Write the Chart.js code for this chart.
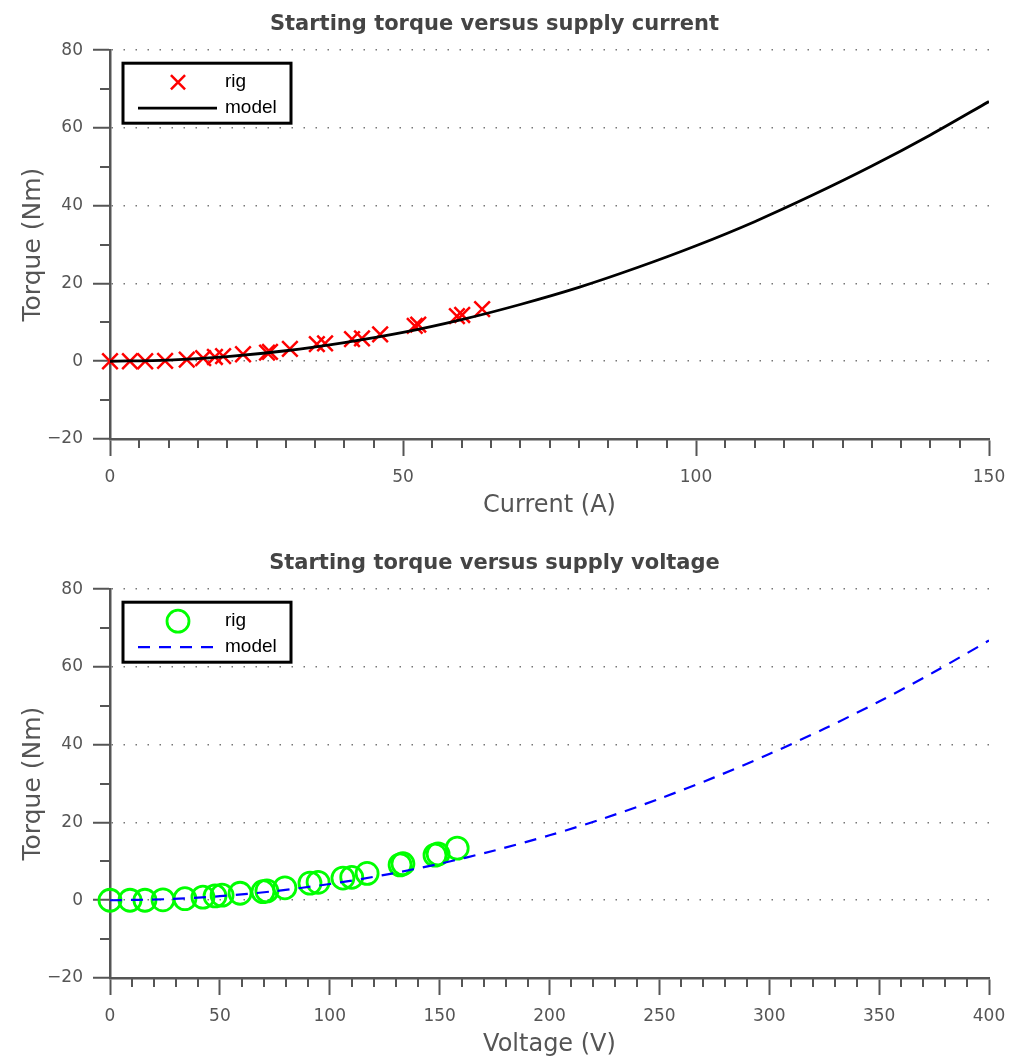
<!DOCTYPE html>
<html>
<head>
<meta charset="utf-8">
<script src="https://cdn.jsdelivr.net/npm/chart.js@4.4.0/dist/chart.umd.min.js"></script>
<style>
  html, body { margin: 0; padding: 0; background: #fff; overflow: hidden; width: 1010px; height: 1061px; }
  canvas { position: absolute; left: 0; }
  #currentChart { top: 0; }
  #voltageChart { top: 539px; }
</style>
</head>
<body>
<canvas id="currentChart" width="1010" height="530"></canvas>
<canvas id="voltageChart" width="1010" height="530"></canvas>
<script>
// mesures du banc (rig)
const rigCurrent = [0, 3.4, 6.0, 9.4, 13.1, 15.9, 17.9, 19.3, 22.7, 26.8, 27.3, 30.7, 35.3, 36.7, 41.3, 43.0, 46.1, 52.0, 52.6, 59.2, 60.1, 63.5];
const rigVoltage = [0, 9.1, 15.9, 24.1, 34.1, 42.3, 47.8, 51.0, 59.2, 69.6, 71.4, 79.6, 91.0, 94.7, 106.0, 110.0, 117.0, 132.0, 133.3, 147.9, 149.3, 158.0];
const rigTorque = [0, 0, 0, 0.1, 0.4, 0.8, 1.1, 1.3, 1.8, 2.2, 2.4, 3.2, 4.4, 4.6, 5.7, 5.9, 6.9, 9.1, 9.4, 11.6, 11.9, 13.4];

// courbes du modele
const modelCurrent = [0, 10, 20, 30, 40, 50, 60, 70, 80, 90, 100, 110, 120, 130, 140, 150];
const modelTorqueI = [0, 0.3, 1.2, 2.7, 4.8, 7.4, 10.7, 14.6, 19.0, 24.1, 29.7, 35.9, 42.8, 50.2, 58.2, 66.8];
const modelVoltage = [0, 25, 50, 75, 100, 125, 150, 175, 200, 225, 250, 275, 300, 325, 350, 375, 400];
const modelTorqueV = [0, 0.26, 1.04, 2.35, 4.18, 6.52, 9.39, 12.8, 16.7, 21.1, 26.1, 31.6, 37.6, 44.1, 51.1, 58.7, 66.8];

// axes
const torqueTicks = [-20, 0, 20, 40, 60, 80];
const currentTicks = [0, 50, 100, 150];
const voltageTicks = [0, 50, 100, 150, 200, 250, 300, 350, 400];

const axisColor = '#555';

const toPoints = (xs, ys) => xs.map((x, i) => ({ x: x, y: ys[i] }));

// petits traits secondaires sur les axes
const minorTicks = {
  id: 'minorTicks',
  afterDraw(chart, args, opts) {
    const { ctx, chartArea } = chart;
    const x = chart.scales.x, y = chart.scales.y;
    ctx.save();
    ctx.strokeStyle = axisColor;
    ctx.lineWidth = 2;
    ctx.beginPath();
    for (let v = x.min; v <= x.max; v += opts.xStep) {
      if (v % opts.xMajor === 0) continue;
      const px = Math.round(x.getPixelForValue(v));
      ctx.moveTo(px, chartArea.bottom);
      ctx.lineTo(px, chartArea.bottom + 9);
    }
    for (let v = y.min; v <= y.max; v += 10) {
      if (v % 20 === 0) continue;
      const py = Math.round(y.getPixelForValue(v));
      ctx.moveTo(chartArea.left, py);
      ctx.lineTo(chartArea.left - 10, py);
    }
    ctx.stroke();
    ctx.restore();
  }
};

// legende dans un cadre en haut a gauche
const boxLegend = {
  id: 'boxLegend',
  afterDraw(chart) {
    const { ctx, chartArea } = chart;
    const left = chartArea.left + 13, top = chartArea.top + 13;
    ctx.save();
    ctx.fillStyle = '#fff';
    ctx.fillRect(left, top, 168, 60);
    ctx.strokeStyle = '#000';
    ctx.lineWidth = 3;
    ctx.strokeRect(left, top, 168, 60);

    const rig = chart.data.datasets[0];
    const model = chart.data.datasets[1];
    const row1 = top + 19, row2 = top + 45;

    ctx.strokeStyle = rig.borderColor;
    ctx.lineWidth = rig.borderWidth;
    Chart.helpers.drawPoint(ctx, { pointStyle: rig.pointStyle, radius: rig.legendRadius, borderWidth: rig.borderWidth, rotation: 0 }, left + 55, row1);

    ctx.strokeStyle = model.borderColor;
    ctx.lineWidth = model.borderWidth;
    ctx.setLineDash(model.borderDash || []);
    ctx.beginPath();
    ctx.moveTo(left + 15, row2);
    ctx.lineTo(left + 94, row2);
    ctx.stroke();
    ctx.setLineDash([]);

    ctx.fillStyle = '#000';
    ctx.font = '19px "Liberation Sans", Arial, sans-serif';
    ctx.textBaseline = 'middle';
    ctx.fillText(rig.label, left + 102, row1);
    ctx.fillText(model.label, left + 102, row2);
    ctx.restore();
  }
};

function makeChart(id, cfg) {
  const ctx = document.getElementById(id).getContext('2d');
  return new Chart(ctx, {
    type: 'scatter',
    data: {
      datasets: [{
        label: 'rig',
        data: toPoints(cfg.rigX, rigTorque),
        pointStyle: cfg.pointStyle,
        pointRadius: cfg.pointRadius,
        legendRadius: cfg.legendRadius,
        borderColor: cfg.rigColor,
        backgroundColor: 'rgba(0,0,0,0)',
        borderWidth: cfg.rigWidth,
        clip: false,
        order: 1
      }, {
        label: 'model',
        data: toPoints(cfg.modelX, cfg.modelY),
        showLine: true,
        pointRadius: 0,
        borderColor: cfg.modelColor,
        borderWidth: cfg.modelWidth,
        borderDash: cfg.modelDash,
        tension: 0.3,
        fill: false,
        order: 0
      }]
    },
    options: {
      responsive: false,
      animation: false,
      events: [],
      layout: { padding: { left: 0, right: 21, top: 0, bottom: 0 } },
      plugins: {
        legend: { display: false },
        tooltip: { enabled: false },
        title: {
          display: true,
          text: cfg.title,
          color: '#444',
          font: { family: '"DejaVu Sans", sans-serif', size: 21, weight: 'bold' },
          padding: { top: 12, bottom: 13 }
        },
        minorTicks: { xStep: cfg.xMinor, xMajor: 50 }
      },
      scales: {
        x: {
          type: 'linear',
          min: cfg.xTicks[0],
          max: cfg.xTicks[cfg.xTicks.length - 1],
          afterBuildTicks: (scale) => { scale.ticks = cfg.xTicks.map(v => ({ value: v })); },
          afterFit: (scale) => { scale.height = 91; scale.paddingRight = 0; scale.paddingLeft = 0; },
          ticks: {
            color: axisColor,
            padding: 11,
            maxRotation: 0,
            font: { family: '"DejaVu Sans", sans-serif', size: 17 }
          },
          grid: { drawOnChartArea: false, drawTicks: true, tickLength: 17, tickColor: axisColor, tickWidth: 2 },
          border: { display: true, color: axisColor, width: 2.5 },
          title: {
            display: true,
            text: cfg.xTitle,
            color: axisColor,
            font: { family: '"DejaVu Sans", sans-serif', size: 24 },
            padding: { top: 0, bottom: 10 }
          }
        },
        y: {
          type: 'linear',
          min: -20,
          max: 80,
          afterBuildTicks: (scale) => { scale.ticks = torqueTicks.map(v => ({ value: v })); },
          afterFit: (scale) => { scale.width = 110; },
          ticks: {
            color: axisColor,
            padding: 10,
            font: { family: '"DejaVu Sans", sans-serif', size: 17 },
            callback: (v) => String(v).replace('-', '\u2212')
          },
          grid: {
            drawOnChartArea: true,
            color: '#777',
            lineWidth: 1.5,
            drawTicks: true,
            tickLength: 17,
            tickColor: axisColor,
            tickWidth: 2,
            tickBorderDash: []
          },
          border: { display: true, color: axisColor, width: 2.5, dash: [1.5, 10.5] },
          title: {
            display: true,
            text: 'Torque (Nm)',
            color: axisColor,
            font: { family: '"DejaVu Sans", sans-serif', size: 25 },
            padding: { top: 18, bottom: 0 }
          }
        }
      }
    },
    plugins: [minorTicks, boxLegend]
  });
}

makeChart('currentChart', {
  title: 'Starting torque versus supply current',
  xTitle: 'Current (A)',
  xTicks: currentTicks,
  xMinor: 5,
  rigX: rigCurrent,
  modelX: modelCurrent,
  modelY: modelTorqueI,
  pointStyle: 'crossRot',
  pointRadius: 11,
  legendRadius: 10,
  rigColor: '#ff0000',
  rigWidth: 2.5,
  modelColor: '#000000',
  modelWidth: 2.8,
  modelDash: []
});

makeChart('voltageChart', {
  title: 'Starting torque versus supply voltage',
  xTitle: 'Voltage (V)',
  xTicks: voltageTicks,
  xMinor: 10,
  rigX: rigVoltage,
  modelX: modelVoltage,
  modelY: modelTorqueV,
  pointStyle: 'circle',
  pointRadius: 11,
  legendRadius: 11,
  rigColor: '#00ff00',
  rigWidth: 2.8,
  modelColor: '#0000ff',
  modelWidth: 2.2,
  modelDash: [12, 9]
});
</script>
</body>
</html>
